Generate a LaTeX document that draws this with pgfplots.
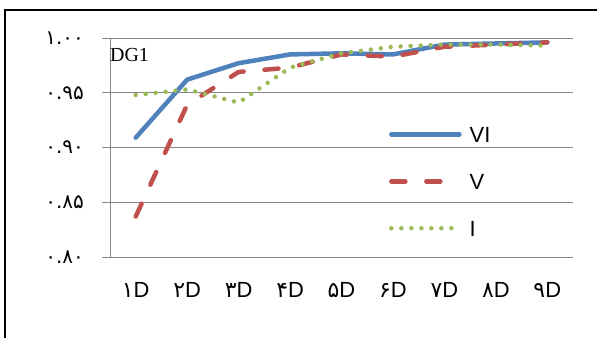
\documentclass[border=0pt]{standalone}
\usepackage{fontspec}
\setmainfont{Liberation Sans}
\newfontfamily\fa[Script=Arabic]{DejaVu Sans}
\newfontfamily\tnr{Liberation Serif}
\usepackage{pgfplots}
\pgfplotsset{compat=1.18}
\definecolor{sBlue}{HTML}{4F81BD}
\definecolor{sRed}{HTML}{C0504D}
\definecolor{sGreen}{HTML}{9BBB59}
\definecolor{gridc}{RGB}{134,134,134}
\begin{document}
\begin{tikzpicture}
\path[use as bounding box] (0,0) rectangle (597bp,-338bp);
\draw[line width=2bp, black] (5bp,-345bp) -- (5bp,-10bp) -- (610bp,-10bp);
\begin{axis}[
  at={(110bp,-257bp)}, anchor=south west,
  scale only axis, width=463bp, height=219bp,
  xmin=0.5, xmax=9.5, ymin=0.80, ymax=1.00,
  axis x line*=bottom, axis y line*=left,
  axis line style={draw=gridc, line width=1bp, -},
  xtick={1,2,3,4,5,6,7,8,9},
  xticklabels={{\fa ۱}D,{\fa ۲}D,{\fa ۳}D,{\fa ۴}D,{\fa ۵}D,{\fa ۶}D,{\fa ۷}D,{\fa ۸}D,{\fa ۹}D},
  minor xtick={0.5,1.5,2.5,3.5,4.5,5.5,6.5,7.5,8.5,9.5},
  xtick style={draw=none},
  minor tick style={draw=gridc, line width=1bp},
  minor tick length=6bp,
  major tick length=8bp,
  tick align=outside,
  ytick={0.80,0.85,0.90,0.95,1.00},
  yticklabels={{\fa ۰.۸۰},{\fa ۰.۸۵},{\fa ۰.۹۰},{\fa ۰.۹۵},{\fa ۱.۰۰}},
  ytick style={draw=gridc, line width=1bp},
  ymajorgrids,
  major grid style={draw=gridc, line width=1bp},
  xticklabel style={font=\fontsize{22}{26}\selectfont, anchor=north, inner sep=0pt, yshift=-17bp},
  yticklabel style={font=\fontsize{20}{24}\selectfont, anchor=east, inner sep=0pt, xshift=-18bp},
  legend style={draw=none, fill=none, at={(0.596,0.607)}, anchor=north west,
    font=\fontsize{22}{26}\selectfont, row sep=31bp,
    nodes={inner sep=0pt, text height=16bp, text depth=0bp},
    /tikz/every odd column/.append style={column sep=8bp}},
  legend image code/.code={\draw[#1] (0bp,0bp) -- (68bp,0bp);},
  legend cell align=left,
]
\addplot[sBlue, line width=4.5bp, line cap=round, line join=round] coordinates {
(1,0.909) (2,0.962) (3,0.977) (4,0.985) (5,0.986) (6,0.985) (7,0.994) (8,0.995) (9,0.996)};
\addlegendentry{VI}
\addplot[sRed, line width=4.5bp, line cap=round, line join=round, dash pattern=on 14bp off 21bp] coordinates {
(1,0.837) (2,0.939) (3,0.969) (4,0.973) (5,0.985) (6,0.983) (7,0.992) (8,0.994) (9,0.996)};
\addlegendentry{V}
\addplot[sGreen, line width=4.5bp, line cap=round, dash pattern=on 0bp off 10bp] coordinates {
(1,0.948) (2,0.953) (3,0.941) (4,0.973) (5,0.986) (6,0.992) (7,0.994) (8,0.994) (9,0.993)};
\addlegendentry{I}
\node[anchor=west, inner sep=0pt, font=\tnr\fontsize{20}{24}\selectfont] at (rel axis cs:0,0.922) {DG1};
\end{axis}
\end{tikzpicture}
\end{document}
